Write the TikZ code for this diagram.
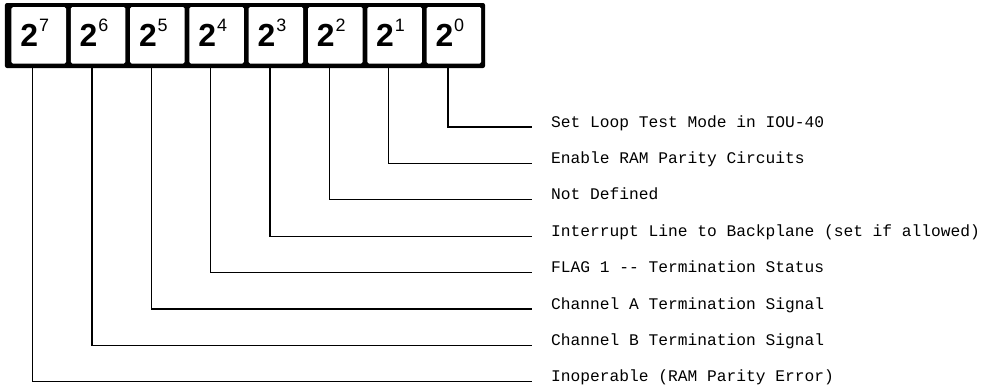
\documentclass[tikz,border=0pt]{standalone}
\usepackage{fontspec}
\setmainfont{Liberation Sans}
\newfontfamily\labelfont{Liberation Mono}
\usetikzlibrary{calc}
\newcommand{\bitdigit}[1]{{\fontsize{32}{34}\selectfont\bfseries 2}\hspace{1pt}\smash{\raisebox{15pt}{\fontsize{18}{20}\selectfont #1}}\hspace*{8pt}}
\begin{document}
\begin{tikzpicture}[x=1bp,y=-1bp,
  regbox/.style={fill=black, rounded corners=2bp, inner sep=0, minimum width=480bp, minimum height=65bp},
  cell/.style={fill=white, rounded corners=1.5bp, inner sep=0, minimum width=54.5bp, minimum height=56.5bp},
  wire/.style={line width=1.3bp, line join=miter},
  desc/.style={anchor=base west, inner sep=0, font=\labelfont\fontsize{16.3}{18}\selectfont}]
\useasboundingbox (0,0) rectangle (987,389);
\node[regbox] (reg) at (245,35.5) {};
\foreach \b/\t in {0/{Set Loop Test Mode in IOU-40},
                   1/{Enable RAM Parity Circuits},
                   2/{Not Defined},
                   3/{Interrupt Line to Backplane (set if allowed)},
                   4/{FLAG 1 -{}- Termination Status},
                   5/{Channel A Termination Signal},
                   6/{Channel B Termination Signal},
                   7/{Inoperable (RAM Parity Error)}} {
  \pgfmathsetmacro\cx{38.75+(7-\b)*59.3}
  \pgfmathsetmacro\ly{127+\b*36.4}
  \node[cell] (b\b) at (\cx,35.25) {\bitdigit{\b}};
  \coordinate (e\b) at (532,\ly);
  \node[desc] (l\b) at (551,\ly) {\t};
  \draw[wire] ($(b\b.south |- reg.south)+(-6,0)$) |- (e\b);
}
\end{tikzpicture}
\end{document}
